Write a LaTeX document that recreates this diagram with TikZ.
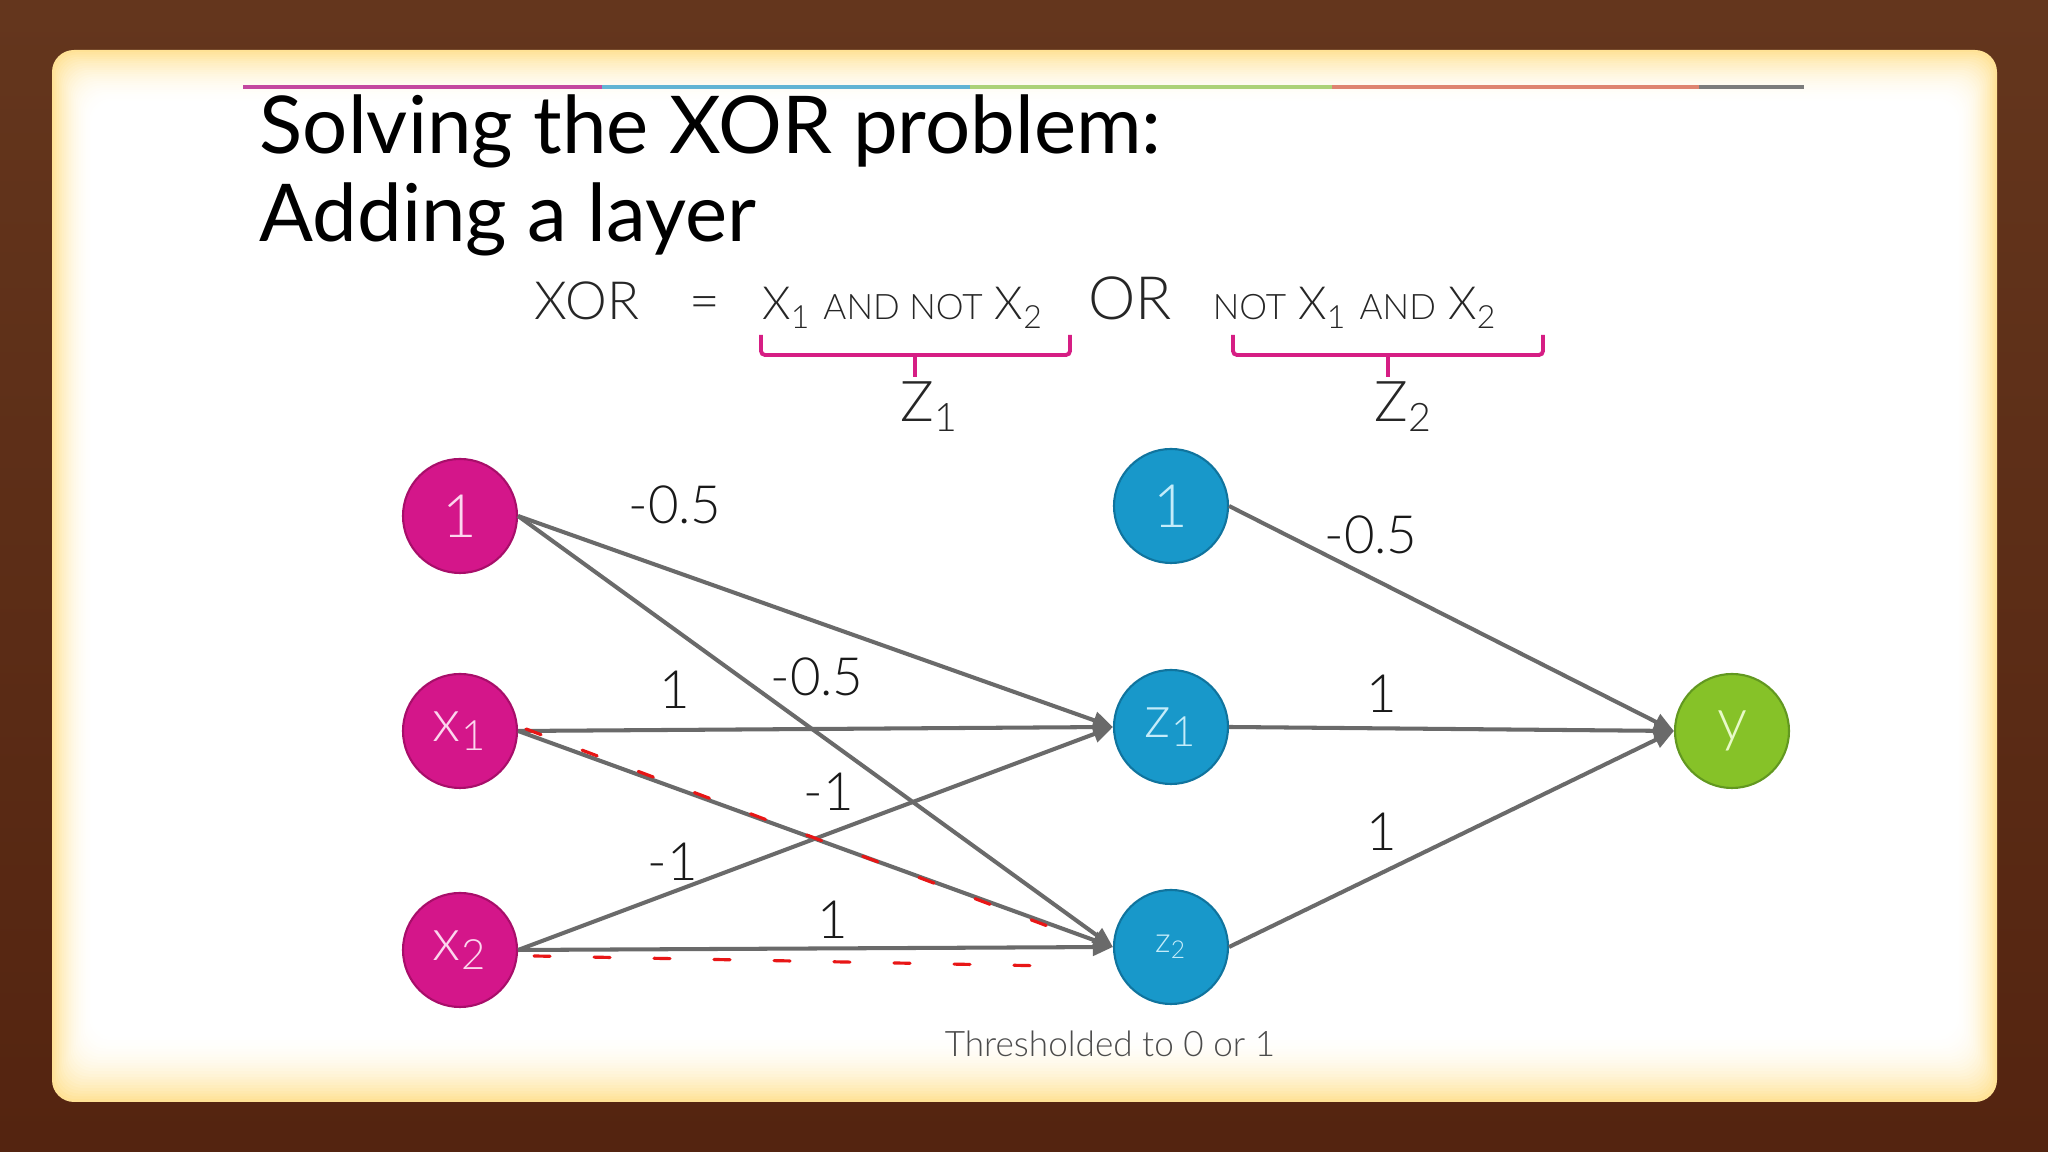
\documentclass[tikz,border=0pt]{standalone}
\usepackage{fontspec}
\setmainfont{Lato}
\IfFontExistsTF{Lato Light}{\newfontfamily\lightfont{Lato Light}}{\newfontfamily\lightfont{Lato}}
\usetikzlibrary{positioning, arrows.meta, calc}

\definecolor{woodTop}{RGB}{100,54,29}
\definecolor{woodBottom}{RGB}{84,36,16}
\definecolor{cardEdge}{RGB}{255,226,150}
\definecolor{pinkNode}{RGB}{212,22,138}
\definecolor{pinkLine}{RGB}{168,14,106}
\definecolor{pinkText}{RGB}{252,214,238}
\definecolor{blueNode}{RGB}{24,152,202}
\definecolor{blueLine}{RGB}{16,116,158}
\definecolor{blueText}{RGB}{196,236,250}
\definecolor{greenNode}{RGB}{134,194,40}
\definecolor{greenLine}{RGB}{98,152,32}
\definecolor{greenText}{RGB}{232,250,200}
\definecolor{edgeGray}{RGB}{106,106,106}
\definecolor{braceMagenta}{RGB}{214,30,132}
\definecolor{markRed}{RGB}{232,22,22}
\definecolor{ruleA}{RGB}{196,72,160}
\definecolor{ruleB}{RGB}{98,180,212}
\definecolor{ruleC}{RGB}{172,210,120}
\definecolor{ruleD}{RGB}{222,132,112}
\definecolor{ruleE}{RGB}{124,124,124}

\begin{document}
\begin{tikzpicture}[
    neuron/.style={circle, minimum size=1.14cm, inner sep=0pt, line width=0.6pt,
        font=\lightfont\fontsize{17}{17}\selectfont},
    inputnode/.style={neuron, draw=pinkLine, fill=pinkNode, text=pinkText},
    hiddennode/.style={neuron, draw=blueLine, fill=blueNode, text=blueText},
    outputnode/.style={neuron, draw=greenLine, fill=greenNode, text=greenText},
    edge/.style={edgeGray, line width=1.15pt, -{Triangle[length=2mm, width=1.7mm]}},
    weight/.style={font=\lightfont\fontsize{15}{15}\selectfont, text=black!90, inner sep=1pt},
    redmark/.style={markRed, line width=0.9pt, dash pattern=on 1.6mm off 4.4mm, line cap=round},
    brace/.style={braceMagenta, line width=1.1pt, rounded corners=0.4mm},
    eqtext/.style={font=\lightfont\fontsize{15}{15}\selectfont, text=black!85, anchor=base, inner sep=0pt},
    title/.style={font=\fontsize{22.7}{22.7}\selectfont, anchor=base west, inner sep=0pt}
]

% Column positions of the three layers
\def\xIn{4.60}
\def\xHid{11.71}
\def\xOut{17.32}
\newcommand{\smallcaps}[1]{{\fontsize{10}{10}\selectfont #1}}

% ==========================================
% Wooden frame and cream card
\shade[top color=woodTop, bottom color=woodBottom] (0,0) rectangle (20.48,11.52);
\useasboundingbox (0,0) rectangle (20.48,11.52);
\foreach \i in {0,...,24} {
    \pgfmathsetmacro\mix{100*(1-\i/24)^2}
    \fill[cardEdge!\mix!white, rounded corners=0.22cm]
        (0.52+0.017*\i, 0.50+0.028*\i) rectangle (19.97-0.017*\i, 11.02-0.022*\i);
}

% Coloured rule under the slide top
\draw[ruleA, line width=1pt] (2.43, 10.65) -- (6.02, 10.65);
\draw[ruleB, line width=1pt] (6.02, 10.65) -- (9.70, 10.65);
\draw[ruleC, line width=1pt] (9.70, 10.65) -- (13.32, 10.65);
\draw[ruleD, line width=1pt] (13.32, 10.65) -- (16.99, 10.65);
\draw[ruleE, line width=1pt] (16.99, 10.65) -- (18.04, 10.65);

% Title
\node[title] (title1) at (2.59, 9.98) {Solving the XOR problem:};
\node[title] (title2) at (2.59, 9.10) {Adding a layer};

% ==========================================
% XOR decomposition
\node[eqtext] (xorword) at (5.87, 8.32) {XOR};
\node[eqtext] (eqsign) at (7.05, 8.32) {=};
\node[eqtext, font=\lightfont\fontsize{13}{13}\selectfont] (termA) at (9.03, 8.32)
    {X\textsubscript{1} \smallcaps{AND NOT} X\textsubscript{2}};
\node[eqtext, font=\lightfont\fontsize{17}{17}\selectfont] (orword) at (11.30, 8.32) {OR};
\node[eqtext, font=\lightfont\fontsize{13}{13}\selectfont] (termB) at (13.55, 8.32)
    {\smallcaps{NOT} X\textsubscript{1} \smallcaps{AND} X\textsubscript{2}};

\draw[brace] (7.61, 8.17) -- (7.61, 7.97) -- (10.70, 7.97) -- (10.70, 8.17);
\draw[brace] (9.15, 7.97) -- (9.15, 7.75);
\draw[brace] (12.33, 8.17) -- (12.33, 7.97) -- (15.43, 7.97) -- (15.43, 8.17);
\draw[brace] (13.88, 7.97) -- (13.88, 7.75);

\node[eqtext, font=\lightfont\fontsize{16}{16}\selectfont] (zA) at (9.30, 7.30) {Z\textsubscript{1}};
\node[eqtext, font=\lightfont\fontsize{16}{16}\selectfont] (zB) at (14.04, 7.30) {Z\textsubscript{2}};

% ==========================================
% Network nodes
\node[inputnode] (b0) at (\xIn, 6.36) {1};
\node[inputnode] (x1) at (\xIn, 4.21) {x\textsubscript{1}};
\node[inputnode] (x2) at (\xIn, 2.02) {x\textsubscript{2}};

\node[hiddennode] (h0) at (\xHid, 6.46) {1};
\node[hiddennode] (z1) at (\xHid, 4.25) {z\textsubscript{1}};
\node[hiddennode, font=\lightfont\fontsize{10}{10}\selectfont] (z2) at (\xHid, 2.05) {z\textsubscript{2}};

\node[outputnode] (y) at (\xOut, 4.21) {y};

% Connections
\draw[edge] (b0.east) -- (z1.west);
\draw[edge] (b0.east) -- (z2.west);
\draw[edge] (x1.east) -- (z1.west);
\draw[edge] (x1.east) -- (z2.west);
\draw[edge] (x2.east) -- (z1.west);
\draw[edge] (x2.east) -- (z2.west);
\draw[edge] (h0.east) -- (y.west);
\draw[edge] (z1.east) -- (y.west);
\draw[edge] (z2.east) -- (y.west);

% Weights
\node[weight] (wb1) at (6.75, 6.47) {-0.5};
\node[weight] (w11) at (6.75, 4.62) {1};
\node[weight] (wb2) at (8.17, 4.75) {-0.5};
\node[weight] (w12) at (8.29, 3.60) {-1};
\node[weight] (w21) at (6.73, 2.90) {-1};
\node[weight] (w22) at (8.33, 2.32) {1};
\node[weight] (wh0) at (13.71, 6.17) {-0.5};
\node[weight] (wz1) at (13.82, 4.58) {1};
\node[weight] (wz2) at (13.82, 3.20) {1};

% Hand-drawn red marks on the z2 inputs
\draw[redmark] ($(x1.east)+(0.08,0.02)$) -- ($(z2.west)+(-0.47,0.14)$);
\draw[redmark] ($(x2.east)+(0.16,-0.06)$) -- ($(z2.west)+(-0.63,-0.19)$);

\node[font=\lightfont\fontsize{10}{10}\selectfont, text=black!70, anchor=base] (thresh) at (11.10, 0.95)
    {Thresholded to 0 or 1};

\end{tikzpicture}
\end{document}
